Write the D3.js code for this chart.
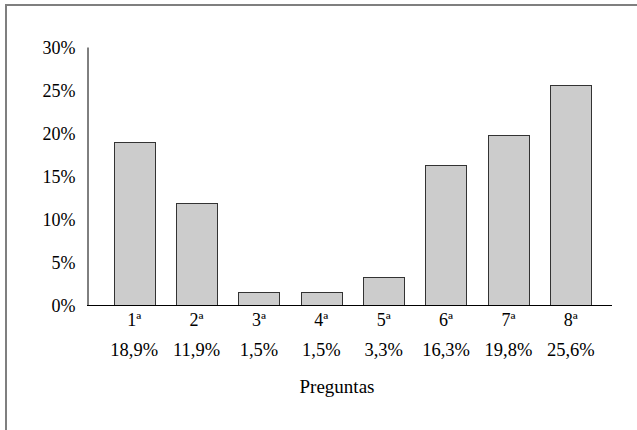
<!DOCTYPE html>
<html>
<head>
<meta charset="utf-8">
<script src="https://cdn.jsdelivr.net/npm/d3@7"></script>
<style>
  body { margin: 0; background: #fff; }
</style>
</head>
<body>
<div id="chart"></div>
<script>
// Data
var questions = ["1ª", "2ª", "3ª", "4ª", "5ª", "6ª", "7ª", "8ª"];
var values = [18.9, 11.9, 1.5, 1.5, 3.3, 16.3, 19.8, 25.6];
var valueLabels = ["18,9%", "11,9%", "1,5%", "1,5%", "3,3%", "16,3%", "19,8%", "25,6%"];
var yTicks = [0, 5, 10, 15, 20, 25, 30];
var xTitle = "Preguntas";

var FONT = "Liberation Serif";
var width = 637, height = 430;
var plot = {left: 87, right: 612, top: 47, bottom: 305};

const svg = d3.select("#chart")
  .append("svg")
  .attr("width", width)
  .attr("height", height);

// outer frame (only the left and top edges show in the picture)
svg.append("rect")
  .attr("x", 6).attr("y", 5)
  .attr("width", 700).attr("height", 500)
  .attr("fill", "none")
  .attr("stroke", "#7f7f7f")
  .attr("stroke-width", 2);

// Scales
var x = d3.scaleBand()
  .domain(questions)
  .range([103, 602])
  .paddingInner(0.34)
  .paddingOuter(0.17);

var y = d3.scaleLinear()
  .domain([0, 30])
  .range([plot.bottom, plot.top]);

// bars
svg.selectAll("rect.bar")
  .data(values)
  .enter().append("rect")
  .attr("class", "bar")
  .attr("x", (d, i) => Math.round(x(questions[i])) + 0.5)
  .attr("y", d => Math.round(y(d)) + 0.5)
  .attr("width", Math.round(x.bandwidth()))
  .attr("height", d => Math.round(y(0)) - Math.round(y(d)))
  .attr("fill", "#cccccc")
  .attr("stroke", "#333")
  .attr("stroke-width", 1);

// y axis
var yAxis = d3.axisLeft(y)
  .tickValues(yTicks)
  .tickSize(0)
  .tickPadding(12)
  .tickFormat(d => d + "%");
var gy = svg.append("g")
  .attr("transform", "translate(" + (plot.left + 0.5) + ",0)")
  .call(yAxis);
gy.select(".domain").attr("stroke", "#000");
gy.selectAll("text")
  .style("font-family", FONT)
  .style("font-size", "18px")
  .attr("fill", "#000")
  .attr("dy", "0.36em");

// x axis line
svg.append("line")
  .attr("x1", plot.left).attr("x2", plot.right)
  .attr("y1", y(0) + 0.5).attr("y2", y(0) + 0.5)
  .attr("stroke", "#000");

// category labels
svg.selectAll("text.cat")
  .data(questions)
  .enter().append("text")
  .attr("class", "cat")
  .attr("x", d => x(d) + x.bandwidth() / 2)
  .attr("y", 326)
  .attr("text-anchor", "middle")
  .style("font-family", FONT)
  .style("font-size", "18px")
  .text(d => d);

// value labels
svg.selectAll("text.val")
  .data(valueLabels)
  .enter().append("text")
  .attr("class", "val")
  .attr("x", (d, i) => x(questions[i]) + x.bandwidth() / 2)
  .attr("y", 356)
  .attr("text-anchor", "middle")
  .style("font-family", FONT)
  .style("font-size", "18.5px")
  .text(d => d);

// axis title
svg.append("text")
  .attr("x", 337)
  .attr("y", 393)
  .attr("text-anchor", "middle")
  .style("font-family", FONT)
  .style("font-size", "19px")
  .text(xTitle);
</script>
</body>
</html>
